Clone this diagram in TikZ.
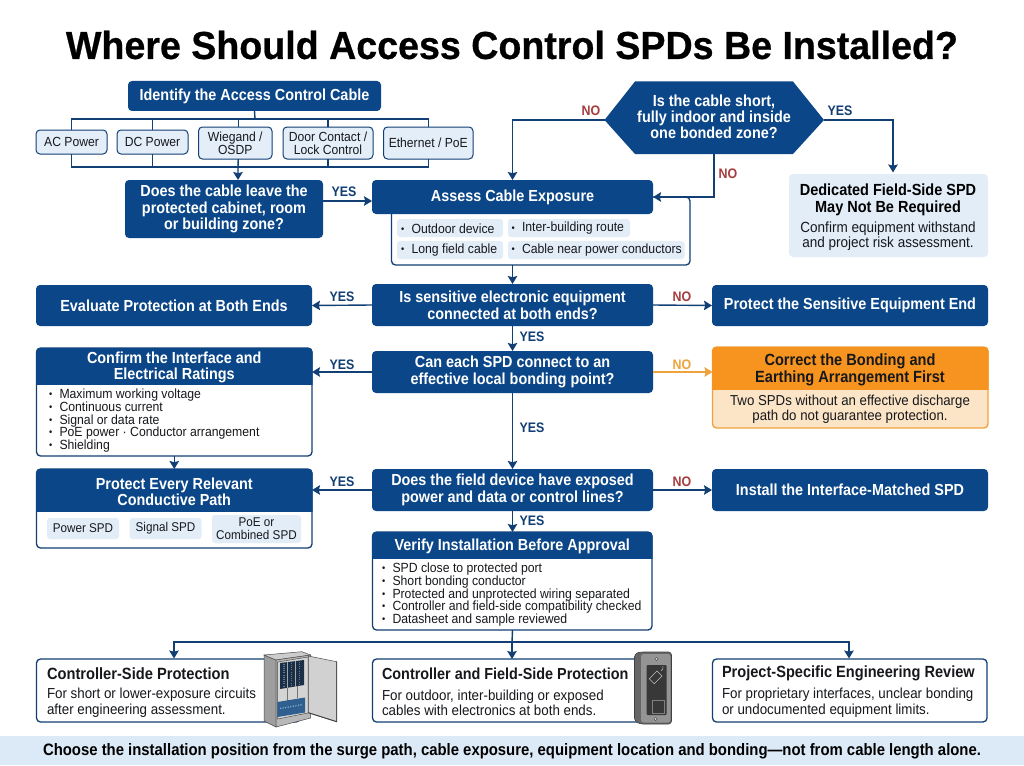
\documentclass[tikz,border=0pt]{standalone}
\usepackage{fontspec}
\setmainfont[FakeStretch=0.92,BoldFeatures={FakeStretch=0.90}]{Liberation Sans}
\newfontfamily\titlefont[BoldFeatures={FakeBold=0.6,FakeStretch=0.964}]{Liberation Sans}
\usetikzlibrary{arrows.meta}
\definecolor{navy}{HTML}{0B4788}
\definecolor{edge}{HTML}{123F74}
\definecolor{ink}{HTML}{16181C}
\definecolor{chipfill}{HTML}{E4EEF9}
\definecolor{softfill}{HTML}{E3EDF8}
\definecolor{bandfill}{HTML}{DCE9F6}
\definecolor{orange}{HTML}{F6941F}
\definecolor{orangesoft}{HTML}{FCE4C6}
\definecolor{orangeline}{HTML}{EFA23C}
\definecolor{noRed}{HTML}{A63C3E}
\definecolor{rackdark}{HTML}{1D2F45}
\definecolor{rackled}{HTML}{4A7FB0}
\definecolor{terminal}{HTML}{2F5F8E}
\definecolor{terminalled}{HTML}{8FB4D6}
\newcommand{\fs}[2]{\fontsize{#1}{#2}\selectfont}
\tikzset{
  x=1pt,y=-1pt,
  every node/.style={inner sep=0pt,outer sep=0pt,align=center},
  solidbox/.style={rectangle,rounded corners=4pt,fill=navy,text=white,font=\fs{16}{16.6}\bfseries},
  decisionbox/.style={solidbox},
  panelbox/.style={rectangle,rounded corners=4pt,fill=white,draw=edge,line width=1.3pt},
  warnpanel/.style={rectangle,rounded corners=4pt,fill=orangesoft,draw=orangeline,line width=1.3pt},
  softbox/.style={rectangle,rounded corners=4pt,fill=softfill},
  chip/.style={rectangle,rounded corners=4pt,fill=chipfill,draw=edge,line width=1pt,text=ink,font=\fs{13.2}{13}},
  softchip/.style={rectangle,rounded corners=3pt,fill=softfill,text=ink,font=\fs{12.7}{12.8}},
  headtext/.style={text=white,yshift=-1.5pt,font=\fs{16}{16.4}\bfseries},
  listtext/.style={align=left,anchor=north west,text=ink,font=\fs{13.3}{12.7}},
  cardtitle/.style={anchor=west,text=ink,font=\fs{16}{16}\bfseries},
  cardbody/.style={anchor=west,align=left,text=ink,font=\fs{14.5}{15.6}},
  conn/.style={draw=edge,line width=1.4pt},
  arrow/.style={conn,-{Stealth[length=8pt,width=9.5pt,inset=1.2pt]}},
  warnarrow/.style={draw=orangeline,line width=1.4pt,-{Stealth[length=8pt,width=9.5pt,inset=1.2pt]}},
  yeslabel/.style={text=edge,font=\fs{13.8}{14}\bfseries},
  nolabel/.style={text=noRed,font=\fs{13.8}{14}\bfseries},
  nowarnlabel/.style={text=orangeline,font=\fs{13.8}{14}\bfseries},
  steel/.style={draw=black!70,line width=.5pt},
}
% rectangular node from corner coordinates: style, name, x1, y1, x2, y2, text
\newcommand{\pbox}[7]{\node[#1,minimum width={(#5-#3)*1pt},minimum height={(#6-#4)*1pt}] (#2) at ({(#3+#5)/2},{(#4+#6)/2}) {#7};}
% title bar of a panel, rounded on top only: colour, name, x1, y1, x2, y2, text
\newcommand{\headbar}[7]{%
  \begin{scope}
    \clip ({#3-2},{#4-2}) rectangle ({#5+2},#6);
    \fill[#1,rounded corners=4pt] (#3,#4) rectangle (#5,{#6+10});
  \end{scope}
  \node[headtext,minimum width={(#5-#3)*1pt},minimum height={(#6-#4)*1pt}] (#2) at ({(#3+#5)/2},{(#4+#6)/2}) {#7};}
\newcommand{\bl}{\makebox[10.5pt][l]{\raisebox{.8pt}{\scalebox{.75}{•}}}}
\begin{document}
\begin{tikzpicture}
\useasboundingbox (0,0) rectangle (1024,765);
\fill[white] (0,0) rectangle (1024,765);

\node[text=black,font=\titlefont\fs{39}{40}\bfseries] (title) at (512,45) {Where Should Access Control SPDs Be Installed?};

% cable identification
\pbox{solidbox}{identify}{128}{81}{381}{111}{\raisebox{-1pt}{Identify the Access Control Cable}}
\pbox{chip}{ac}{36}{130}{107}{154}{AC Power}
\pbox{chip}{dc}{117}{130}{188}{154}{DC Power}
\pbox{chip}{wiegand}{198.5}{127}{272}{159}{Wiegand /\\OSDP}
\pbox{chip}{door}{283}{127}{373}{159}{Door Contact /\\Lock Control}
\pbox{chip}{eth}{383.5}{127}{473}{159}{Ethernet / PoE}
\coordinate (busA) at (255,119);
\coordinate (busB) at (238,167);
\pbox{decisionbox}{leave}{125}{180}{323}{238}{Does the cable leave the\\protected cabinet, room\\or building zone?}

\draw[conn] (identify.south) -- (busA);
\draw[conn] (ac.north) -- (ac.north |- busA) -- (eth.north |- busA) -- (eth.north);
\draw[conn] (dc.north) -- (dc.north |- busA);
\draw[conn] (wiegand.north) ++(3,0) -- ++(0,-8);
\draw[conn] (door.north) -- (door.north |- busA);
\draw[conn] (ac.south) -- (ac.south |- busB) -- (eth.south |- busB) -- (eth.south);
\draw[conn] (dc.south) -- (dc.south |- busB);
\draw[conn] (door.south) -- (door.south |- busB);
\draw[arrow] ([xshift=3pt]wiegand.south) -- (busB) -- (busB |- leave.north);

% exposure assessment
\pbox{panelbox}{exposure}{391.5}{197}{690}{265}{}
\pbox{softchip}{outdoor}{397}{219}{503}{237}{}
\pbox{softchip}{longfield}{397}{241}{503}{259}{}
\pbox{softchip}{interb}{508}{219}{630}{237}{}
\pbox{softchip}{nearpower}{508}{241}{684.5}{259}{}
\node[listtext,anchor=west] (outdoorT) at (401,228.5) {\bl Outdoor device};
\node[listtext,anchor=west] (longfieldT) at (401,250) {\bl Long field cable};
\node[listtext,anchor=west] (interbT) at (511.5,228.5) {\bl Inter-building route};
\node[listtext,anchor=west] (nearpowerT) at (511.5,250) {\bl Cable near power conductors};
\pbox{solidbox}{assess}{372}{180}{653}{214}{\raisebox{-1pt}{Assess Cable Exposure}}

% scope test
\path[fill=navy] (635,81.5) -- (793,81.5) -- (824,120) -- (793,154) -- (635,154) -- (604.5,120) -- cycle;
\node[text=white,font=\fs{16}{16.2}\bfseries] (short) at (714,117) {Is the cable short,\\fully indoor and inside\\one bonded zone?};
\coordinate (shortW) at (604.5,120);
\coordinate (shortE) at (824,120);
\coordinate (shortS) at (714,154);
\coordinate (dedicatedIn) at (893,172.5);
\pbox{softbox}{dedicated}{789}{174}{988}{257}{}
\node[text=black,font=\fs{16.1}{17}\bfseries] (dedicatedT) at (888,200) {Dedicated Field-Side SPD\\May Not Be Required};
\node[text=ink,font=\fs{14.7}{15}] (dedicatedB) at (888,236.5) {Confirm equipment withstand\\and project risk assessment.};

% main decision column and its outcomes
\pbox{solidbox}{evaluate}{36}{285}{312}{326}{Evaluate Protection at Both Ends}
\pbox{decisionbox}{sensitive}{372}{284}{653}{326}{Is sensitive electronic equipment\\connected at both ends?}
\pbox{solidbox}{sensend}{712}{285}{988}{326}{Protect the Sensitive Equipment End}
\pbox{decisionbox}{bonding}{372}{351}{653}{393}{Can each SPD connect to an\\effective local bonding point?}
\pbox{decisionbox}{exposed}{372}{469}{653}{511}{Does the field device have exposed\\power and data or control lines?}
\pbox{solidbox}{matched}{712}{469}{988}{511}{Install the Interface-Matched SPD}

% ratings panel
\pbox{panelbox}{ratings}{36.5}{348}{312}{456}{}
\headbar{navy}{ratingsH}{36}{348}{312.5}{384}{Confirm the Interface and\\Electrical Ratings}
\node[listtext] (ratingsL) at (49,389) {\bl Maximum working voltage\\\bl Continuous current\\\bl Signal or data rate\\\bl PoE power · Conductor arrangement\\\bl Shielding};

% conductive path panel
\pbox{panelbox}{paths}{36.5}{469}{312}{548}{}
\headbar{navy}{pathsH}{36}{469}{312.5}{511}{Protect Every Relevant\\Conductive Path}
\pbox{softchip}{powerspd}{47}{518}{119}{539}{Power SPD}
\pbox{softchip}{signalspd}{129.5}{518}{201.5}{539}{Signal SPD}
\pbox{softchip}{poespd}{212}{515}{301}{543}{PoE or\\Combined SPD}

% bonding warning
\pbox{warnpanel}{fixbond}{712.5}{347}{988}{428}{}
\begin{scope}
  \clip (710,345) rectangle (990,389);
  \fill[orange,rounded corners=4pt] (712,347) rectangle (988.5,399);
\end{scope}
\node[text=ink,font=\fs{16.2}{16.8}\bfseries] (fixbondH) at (850,369.5) {Correct the Bonding and\\Earthing Arrangement First};
\node[text=ink,font=\fs{14.4}{14.6}] (fixbondB) at (850,409) {Two SPDs without an effective discharge\\path do not guarantee protection.};

% installation checks
\pbox{panelbox}{verify}{372.5}{532}{652}{630}{}
\headbar{navy}{verifyH}{372}{532}{652.5}{558}{Verify Installation Before Approval}
\node[listtext] (verifyL) at (382,563) {\bl SPD close to protected port\\\bl Short bonding conductor\\\bl Protected and unprotected wiring separated\\\bl Controller and field-side compatibility checked\\\bl Datasheet and sample reviewed};

% outcome cards
\pbox{panelbox}{cardA}{36.5}{659}{300}{722}{}
\pbox{panelbox}{cardB}{372.5}{659}{650}{722}{}
\pbox{panelbox}{cardC}{712.5}{659}{987}{722}{}
\node[cardtitle,font=\fs{16.3}{16}\bfseries] (cardAT) at (47,673.5) {Controller-Side Protection};
\node[cardbody] (cardAB) at (47,703) {For short or lower-exposure circuits\\after engineering assessment.};
\node[cardtitle] (cardBT) at (382,673.5) {Controller and Field-Side Protection};
\node[cardbody] (cardBB) at (382,703) {For outdoor, inter-building or exposed\\cables with electronics at both ends.};
\node[cardtitle,font=\fs{16.2}{16}\bfseries] (cardCT) at (722,673.5) {Project-Specific Engineering Review};
\node[cardbody] (cardCB) at (722,703) {For proprietary interfaces, unclear bonding\\or undocumented equipment limits.};

% connectors
\draw[arrow] ([yshift=8pt]leave.east) -- ([yshift=-4pt]assess.west);
\draw[arrow] (shortW) -| (assess.north);
\draw[arrow] (shortS) |- (assess.east);
\draw[arrow] (shortE) -| (dedicatedIn);
\draw[arrow] (exposure.south -| assess.south) -- (sensitive.north);
\draw[arrow] (sensitive.west) -- (evaluate.east);
\draw[arrow] (sensitive.east) -- (sensend.west);
\draw[arrow] (sensitive.south) -- (bonding.north);
\draw[arrow] (bonding.west) -- (bonding.west -| ratings.east);
\draw[warnarrow] (bonding.east) -- (bonding.east -| fixbond.west);
\draw[arrow] (bonding.south) -- (exposed.north);
\draw[arrow] (ratings.south) -- (paths.north);
\draw[arrow] (exposed.west) -- (exposed.west -| paths.east);
\draw[arrow] (exposed.east) -- (matched.west);
\draw[arrow] (exposed.south) -- (exposed.south |- verify.north);
\coordinate (split) at (512,642);
\draw[conn] (verify.south -| exposed.south) -- (split);
\draw[arrow] (split) -- (cardB.north -| split);
\draw[arrow] (split) -- (174,642) -- (174,658.5);
\draw[arrow] (split) -- (849,642) -- (849,658.5);

% branch labels
\node[yeslabel] (y1) at (344,192) {YES};
\node[nolabel] (n1) at (591,111) {NO};
\node[yeslabel] (y2) at (840,111) {YES};
\node[nolabel] (n2) at (728,174) {NO};
\node[yeslabel] (y3) at (342,297) {YES};
\node[nolabel] (n3) at (682,297) {NO};
\node[yeslabel] (y4) at (532,337) {YES};
\node[yeslabel] (y5) at (342,365) {YES};
\node[nowarnlabel] (n4) at (682,365) {NO};
\node[yeslabel] (y6) at (532,428) {YES};
\node[yeslabel] (y7) at (342,482) {YES};
\node[nolabel] (n5) at (682,482) {NO};
\node[yeslabel] (y8) at (532,521) {YES};

% controller cabinet
\begin{scope}
  \filldraw[fill=black!38,steel] (264,655) -- (276,660) -- (276,727) -- (264,721) -- cycle;
  \filldraw[fill=black!20,steel] (264,655) -- (301.7,651.7) -- (310.7,655) -- (276,660) -- cycle;
  \filldraw[fill=black!28,steel] (276,660) -- (310.7,655) -- (310.7,718) -- (276,727) -- cycle;
  \filldraw[fill=black!17,steel] (277.7,662) -- (308,657) -- (308,713) -- (277.7,719) -- cycle;
  \fill[rackdark] (280,663) -- (304,660) -- (304,685) -- (280,689) -- cycle;
  \foreach \cx in {287.5,295.5}
    \draw[black!35,line width=.35pt] (\cx,{663-(\cx-280)*0.11}) -- (\cx,{689-(\cx-280)*0.16});
  \foreach \cx in {284,291.5,299.5}
    \draw[rackled,line width=1.2pt,dash pattern=on 1pt off 1.2pt] (\cx,{664-(\cx-280)*0.11}) -- (\cx,{687-(\cx-280)*0.16});
  \draw[black!55,line width=.35pt] (287,688) -- (287,701) (297,686) -- (297,698);
  \fill[terminal] (277.4,702) -- (305,697.5) -- (305,712.5) -- (277.4,717) -- cycle;
  \draw[terminalled,line width=1.4pt,dash pattern=on 1pt off 1.6pt] (280,708.5) -- (303,704.5);
  \filldraw[fill=black!18,steel] (308.3,656) -- (336.7,661.7) -- (336.7,721.7) -- (308.3,712.7) -- cycle;
  \draw[black!75,line width=.9pt] (336.7,661.7) -- (336.7,721.7) -- (308.3,712.7);
\end{scope}

% card reader
\begin{scope}
  \filldraw[fill=black!60,draw=black!75,rounded corners=3pt,line width=.6pt] (634.5,654) -- (640,652) -- (671.5,652) -- (671.5,724) -- (640,724) -- (634.5,721) -- cycle;
  \fill[black!42,rounded corners=2.5pt] (641,654) rectangle (670.5,722.5);
  \fill[black!78,rounded corners=1pt] (646.5,665) rectangle (666.7,715);
  \draw[black!70,fill=black!12,line width=.5pt] (656.7,659) circle (1.6pt);
  \draw[black!70,fill=black!12,line width=.5pt] (655.7,719) circle (1.6pt);
  \draw[black!25,line width=.6pt,rotate around={45:(656,677)}] (650,673.5) rectangle (661,680.5);
  \draw[black!25,line width=.5pt] (661,671) arc[start angle=-60,end angle=20,radius=4pt];
  \draw[black!50,line width=.4pt] (652,700) rectangle (664,713);
\end{scope}

% closing note
\fill[bandfill] (0,736) rectangle (1024,765);
\node[text=black,font=\fs{16.54}{16}\bfseries] (note) at (512,751) {Choose the installation position from the surge path, cable exposure, equipment location and bonding—not from cable length alone.};
\end{tikzpicture}
\end{document}
